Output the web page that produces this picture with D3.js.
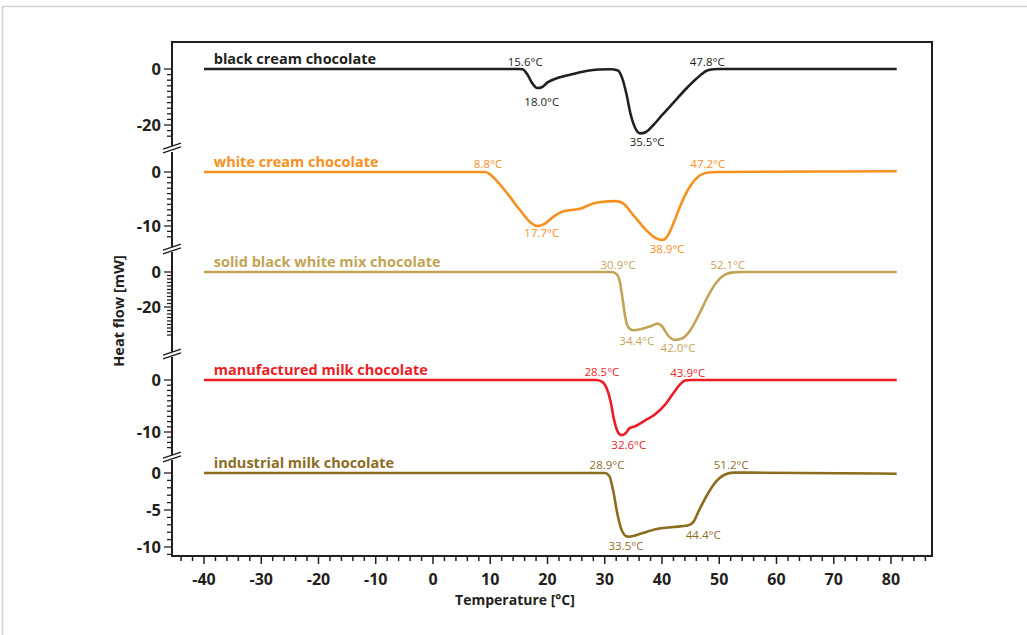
<!DOCTYPE html>
<html>
<head>
<meta charset="utf-8">
<script src="https://cdn.jsdelivr.net/npm/d3@7"></script>
<style>
  body { margin: 0; background: #fff; }
  svg { display: block; font-family: "Open Sans", "Noto Sans", sans-serif; }
</style>
</head>
<body>
<svg id="chart"></svg>
<script>
// ---- data (temperature in °C, heat flow in mW) ----
const seriesNames = ["black cream chocolate", "white cream chocolate", "solid black white mix chocolate",
                     "manufactured milk chocolate", "industrial milk chocolate"];

const blackT = [-40, 15, 15.6, 16.5, 17.3, 18.2, 19, 20, 21.5, 23, 25, 27, 29, 31, 32.3, 33, 33.8, 34.5, 35.3, 36.2, 37.2, 38.5, 40, 42, 44, 46, 47.8, 49, 50, 81];
const blackY = [0, 0, -0.1, -2, -5, -6.8, -6.5, -4.8, -3.4, -2.5, -1.5, -0.6, -0.2, -0.1, -0.5, -3, -9, -16, -21, -23, -22.5, -20, -16.5, -12, -7.5, -3.5, -0.6, -0.1, 0, 0];

const whiteT = [-40, 9, 9.8, 11, 13, 15, 17, 18.2, 19.5, 21, 22.7, 24.5, 26, 27.5, 29, 32, 33.2, 35, 37, 39, 40, 41, 42, 43.5, 45, 46.5, 48, 50, 81];
const whiteY = [0, 0, -0.3, -1.5, -4, -6.8, -9.3, -10, -9.6, -8.3, -7.3, -7, -6.7, -6, -5.6, -5.4, -5.8, -8, -10.5, -12.3, -12.6, -11.8, -9.5, -5.5, -2.5, -0.7, -0.1, 0, 0.15];

const mixT = [-40, 31.2, 32, 32.6, 33.1, 33.6, 34.2, 35, 36.5, 38, 39.2, 40, 41, 42.2, 43.5, 45, 46.5, 48, 49.5, 51, 52.5, 54, 81];
const mixY = [0, 0, -1, -5, -15, -26, -32, -33.3, -32.5, -31, -29.5, -31, -36, -38.8, -38, -33, -24, -14, -6, -1.5, -0.2, 0, 0];

const manufT = [-40, 28.5, 29.5, 30.3, 31, 31.6, 32.2, 32.9, 33.6, 34.3, 35.5, 37, 38.8, 40.5, 42, 43.2, 44, 45, 81];
const manufY = [0, 0, -0.3, -1.5, -4, -7.5, -9.8, -10.6, -10.3, -9.3, -8.8, -7.8, -6.6, -4.8, -2.5, -0.8, -0.1, 0, 0];

const industT = [-40, 30, 30.8, 31.5, 32.2, 33, 34, 35.5, 37.5, 39.5, 42, 44.5, 45.5, 46.5, 48, 49.5, 51, 52.5, 56, 81];
const industY = [0, 0, -0.4, -2.5, -5.5, -7.8, -8.6, -8.4, -7.9, -7.5, -7.3, -7.1, -6.6, -5, -2.8, -1.1, -0.2, 0.05, 0.05, -0.1];

// peak / onset labels: [label, °C position, mW position]
const blackNotes = [["15.6°C", 16.1, 1.1], ["18.0°C", 19.0, -13.2], ["35.5°C", 37.4, -27.5], ["47.8°C", 47.9, 1.1]];
const whiteNotes = [["8.8°C", 9.6, 0.75], ["17.7°C", 19.0, -12.0], ["38.9°C", 40.9, -15.0], ["47.2°C", 48.0, 0.75]];
const mixNotes = [["30.9°C", 32.3, 1.7], ["34.4°C", 35.6, -41.7], ["42.0°C", 42.8, -45.7], ["52.1°C", 51.5, 1.7]];
const manufNotes = [["28.5°C", 29.5, 0.77], ["32.6°C", 34.2, -13.3], ["43.9°C", 44.5, 0.6]];
const industNotes = [["28.9°C", 30.4, 0.54], ["33.5°C", 33.7, -10.4], ["44.4°C", 47.2, -8.9], ["51.2°C", 52.1, 0.54]];

const yMajor = [[0, -20], [0, -10], [0, -20], [0, -10], [0, -5, -10]];
const xTicks = d3.range(-40, 81, 10);

// ---- layout ----
const W = 1027, H = 635;
const fLeft = 172, fRight = 932, fTop = 42, fBottom = 556;
const colors = ["#231f20", "#f7901e", "#c3a455", "#ed1c24", "#8c6d1f"];

const panels = [
  { T: blackT, Y: blackY, notes: blackNotes, px: [42, 147], zero: 69, k: 2.8, minor: [0, -24, 2] },
  { T: whiteT, Y: whiteY, notes: whiteNotes, px: [150, 248], zero: 172, k: 5.4, minor: [0, -12, 1] },
  { T: mixT, Y: mixY, notes: mixNotes, px: [250, 353], zero: 272, k: 1.75, minor: [0, -36, 2] },
  { T: manufT, Y: manufY, notes: manufNotes, px: [355, 456], zero: 380, k: 5.2, minor: [0, -13, 1] },
  { T: industT, Y: industY, notes: industNotes, px: [458, 556], zero: 473, k: 7.4, minor: [0, -11, 1] }
];
const breaks = [148, 249, 354, 457];

const svg = d3.select("#chart").attr("width", W).attr("height", H);

// outer light frame
svg.append("rect")
  .attr("x", 2.5).attr("y", 6.5).attr("width", W + 10).attr("height", H + 10)
  .attr("fill", "none").attr("stroke", "#d2d2d2").attr("stroke-width", 1.5);

const x = d3.scaleLinear().domain([-40, 80]).range([204, 891]);

// frame top + right
svg.append("path")
  .attr("d", `M${fLeft},${fTop}H${fRight}V${fBottom}`)
  .attr("fill", "none").attr("stroke", "#231f20").attr("stroke-width", 2);

// x axis
const xAxis = svg.append("g").attr("transform", `translate(0,${fBottom})`);
xAxis.append("line").attr("x1", fLeft - 1).attr("x2", fRight + 1)
  .attr("stroke", "#231f20").attr("stroke-width", 2);
xAxis.selectAll(".minor").data(d3.range(-44, 87, 2))
  .join("line")
  .attr("x1", d => x(d)).attr("x2", d => x(d))
  .attr("y1", 0).attr("y2", d => d % 10 === 0 ? 8 : 5)
  .attr("stroke", "#231f20").attr("stroke-width", 1.5);
xAxis.selectAll("text").data(xTicks)
  .join("text")
  .attr("x", d => x(d)).attr("y", 29)
  .attr("text-anchor", "middle")
  .attr("font-size", 16).attr("font-weight", 700).attr("fill", "#231f20")
  .text(d => d);

svg.append("text")
  .attr("x", 515).attr("y", 605)
  .attr("text-anchor", "middle")
  .attr("font-size", 14).attr("font-weight", 700).attr("fill", "#231f20")
  .text("Temperature [°C]");

svg.append("text")
  .attr("transform", "translate(124,311) rotate(-90)")
  .attr("text-anchor", "middle")
  .attr("font-size", 14.5).attr("font-weight", 700).attr("fill", "#231f20")
  .text("Heat flow [mW]");

const line = d3.line().curve(d3.curveMonotoneX);

panels.forEach((p, i) => {
  const y = d3.scaleLinear()
    .domain([(p.zero - p.px[0]) / p.k, -(p.px[1] - p.zero) / p.k])
    .range(p.px);
  const g = svg.append("g");

  // axis segment
  g.append("line")
    .attr("x1", fLeft).attr("x2", fLeft)
    .attr("y1", i === 0 ? fTop - 1 : p.px[0] + 2)
    .attr("y2", i === panels.length - 1 ? fBottom + 1 : p.px[1] - 1)
    .attr("stroke", "#231f20").attr("stroke-width", 2);

  const minorVals = d3.range(p.minor[0], p.minor[1] - 0.01, -p.minor[2]);
  g.selectAll(".tk").data(minorVals)
    .join("line")
    .attr("x1", d => yMajor[i].includes(d) ? fLeft - 8 : fLeft - 5).attr("x2", fLeft)
    .attr("y1", d => y(d)).attr("y2", d => y(d))
    .attr("stroke", "#231f20").attr("stroke-width", 1.3);

  g.selectAll(".yl").data(yMajor[i])
    .join("text")
    .attr("x", fLeft - 11).attr("y", d => y(d))
    .attr("dy", "0.36em")
    .attr("text-anchor", "end")
    .attr("font-size", 16.5).attr("font-weight", 700).attr("fill", "#231f20")
    .text(d => d);

  g.append("path")
    .datum(p.T.map((t, j) => [x(t), y(p.Y[j])]))
    .attr("d", line)
    .attr("fill", "none")
    .attr("stroke", colors[i])
    .attr("stroke-width", 2.6)
    .attr("stroke-linejoin", "round");

  g.append("text")
    .attr("x", x(-38.3)).attr("y", y(0) - 5)
    .attr("font-size", 14.5).attr("font-weight", 700).attr("fill", colors[i])
    .text(seriesNames[i]);

  g.selectAll(".note").data(p.notes)
    .join("text")
    .attr("x", d => x(d[1])).attr("y", d => y(d[2]))
    .attr("text-anchor", "middle")
    .attr("font-size", 11.5).attr("fill", colors[i])
    .text(d => d[0]);
});

// axis breaks
breaks.forEach(b => {
  const bg = svg.append("g");
  bg.append("rect").attr("x", fLeft - 2).attr("y", b - 1.5).attr("width", 4).attr("height", 3).attr("fill", "#fff");
  [-1.8, 1.8].forEach(o => {
    bg.append("line")
      .attr("x1", fLeft - 9).attr("y1", b + o + 3)
      .attr("x2", fLeft + 9).attr("y2", b + o - 3)
      .attr("stroke", "#231f20").attr("stroke-width", 1.4);
  });
});
</script>
</body>
</html>
